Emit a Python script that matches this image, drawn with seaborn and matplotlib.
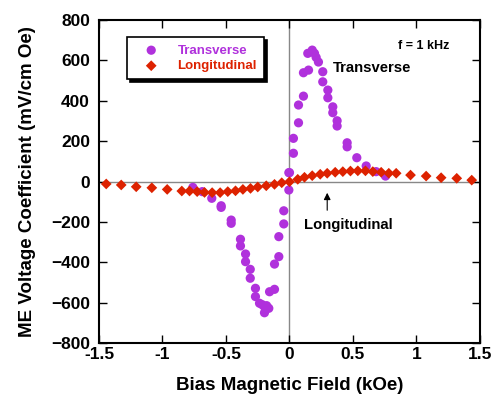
import numpy as np
import pandas as pd
import matplotlib
matplotlib.use("Agg")
import matplotlib.pyplot as plt
import seaborn as sns

# Transverse ME coefficient (two sweeps per field step)
trans_x = [-0.761, -0.687, -0.612, -0.538, -0.538, -0.459, -0.459, -0.386, -0.386,
           -0.346, -0.346, -0.309, -0.309, -0.268, -0.268, -0.236, -0.215, -0.197,
           -0.197, -0.180, -0.163, -0.157, -0.118, -0.118, -0.084, -0.084, -0.045,
           -0.045, -0.005, -0.005,
           0.000, 0.031, 0.031, 0.071, 0.071, 0.110, 0.110, 0.150, 0.144, 0.179,
           0.197, 0.210, 0.228, 0.262, 0.262, 0.302, 0.302, 0.341, 0.341, 0.375,
           0.375, 0.454, 0.454, 0.530, 0.604, 0.682, 0.756]
trans_y = [-29, -50, -83, -128, -120, -207, -191, -319, -286,
           -397, -359, -479, -435, -570, -529, -603, -610, -620,
           -650, -615, -628, -546, -534, -409, -372, -273, -210,
           -145, -42, 44,
           44, 214, 140, 379, 291, 423, 539, 552, 635, 651,
           635, 615, 592, 544, 494, 453, 415, 370, 341, 301,
           275, 192, 172, 118, 77, 49, 27]

# Longitudinal ME coefficient
long_x = [-1.443, -1.325, -1.207, -1.084, -0.963, -0.848, -0.787, -0.727, -0.669,
          -0.609, -0.546, -0.486, -0.425, -0.367, -0.307, -0.250, -0.183, -0.118,
          -0.061, 0.000, 0.065, 0.118, 0.179, 0.242, 0.297, 0.360, 0.420, 0.480,
          0.538, 0.598, 0.656, 0.722, 0.782, 0.840, 0.953, 1.076, 1.194, 1.317, 1.435]
long_y = [-12, -17, -26, -31, -39, -47, -47, -50, -54,
          -55, -55, -50, -46, -39, -34, -27, -21, -14,
          -6, -1, 11, 21, 29, 36, 41, 46, 49, 52,
          53, 53, 49, 46, 41, 41, 32, 27, 19, 16, 7]

x_ticks = [-1.5, -1, -0.5, 0, 0.5, 1, 1.5]
y_ticks = [-800, -600, -400, -200, 0, 200, 400, 600, 800]

purple = "#B031DC"
red = "#DD2200"

sns.set_style("ticks")
plt.rcParams['font.family'] = ['Liberation Sans', 'DejaVu Sans']
plt.rcParams['font.weight'] = 'bold'
plt.rcParams['text.color'] = 'black'
plt.rcParams['axes.labelcolor'] = 'black'
plt.rcParams['xtick.color'] = 'black'
plt.rcParams['ytick.color'] = 'black'

fig = plt.figure(figsize=(4.93, 4.01), dpi=100)
ax = fig.add_axes([0.2008, 0.1446, 0.7728, 0.8054])

ax.axhline(0, color="#888888", lw=1, zorder=0)
ax.axvline(0, color="#888888", lw=1, zorder=0)

trans = pd.DataFrame({"field": trans_x, "me": trans_y})
longi = pd.DataFrame({"field": long_x, "me": long_y})

sns.scatterplot(data=trans, x="field", y="me", ax=ax, color=purple, marker="o",
                s=44, edgecolor="none", label="Transverse", zorder=3)
sns.scatterplot(data=longi, x="field", y="me", ax=ax, color=red, marker="D",
                s=30, edgecolor="none", label="Longitudinal", zorder=4)

ax.set_xlim(-1.5, 1.5)
ax.set_ylim(-800, 800)
ax.set_xticks(x_ticks)
ax.set_xticklabels([f"{t:g}" for t in x_ticks])
ax.set_yticks(y_ticks)
ax.tick_params(direction="in", top=True, right=True, length=6, width=1,
               labelsize=12.5)
ax.tick_params(axis="x", pad=3)
ax.tick_params(axis="y", pad=6.5)
for lab in ax.get_xticklabels() + ax.get_yticklabels():
    lab.set_fontweight("bold")
for sp in ax.spines.values():
    sp.set_linewidth(1.5)
    sp.set_color("black")

ax.set_xlabel("Bias Magnetic Field (kOe)", fontsize=13.5, fontweight="bold", labelpad=11)
ax.set_ylabel("ME Voltage Coefficient (mV/cm Oe)", fontsize=13.5, fontweight="bold", labelpad=11)

leg = ax.legend(loc="upper left", bbox_to_anchor=(0.073, 0.947), borderaxespad=0,
                frameon=True, fancybox=False, edgecolor="black", fontsize=9.5,
                handlelength=2.6, handletextpad=0.7, borderpad=0.55, labelspacing=0.25,
                shadow={"color": "black", "alpha": 1})
leg.get_frame().set_linewidth(1.2)
for txt, col in zip(leg.get_texts(), [purple, red]):
    txt.set_color(col)
    txt.set_fontweight("bold")

ax.text(1.055, 672, "f = 1 kHz", fontsize=9, fontweight="bold", ha="center", va="center")
ax.text(0.65, 562, "Transverse", fontsize=10.7, fontweight="bold", ha="center", va="center")
ax.text(0.465, -216, "Longitudinal", fontsize=10.7, fontweight="bold", ha="center", va="center")
ax.annotate("", xy=(0.297, -42), xytext=(0.297, -156),
            arrowprops=dict(arrowstyle="-|>", color="black", lw=0.8,
                            mutation_scale=10))

fig.savefig("out.png", dpi=100)
